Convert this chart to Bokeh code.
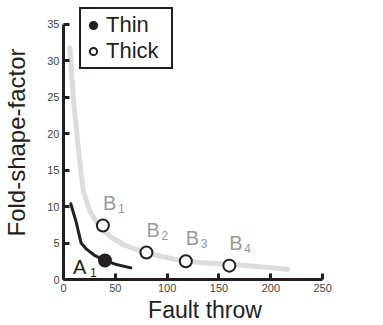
from bokeh.plotting import figure
from bokeh.models import Range1d, Legend, LegendItem, ColumnDataSource, FixedTicker
from bokeh.core.properties import value
from bokeh.embed import file_html
from bokeh.resources import INLINE

# data
thin_curve_x = [7, 12, 17, 22, 30, 40, 50, 65]
thin_curve_y = [10.4, 8.0, 5.0, 4.2, 3.3, 2.6, 2.1, 1.6]
thick_curve_x = [6, 10, 15, 19, 25, 33, 45, 59, 75, 88, 110, 133, 160, 178, 200, 216]
thick_curve_y = [31.8, 24.0, 17.0, 12.2, 9.5, 7.6, 5.9, 4.7, 3.9, 3.4, 2.7, 2.3, 2.1, 1.9, 1.6, 1.4]
thin_pts_x = [40]
thin_pts_y = [2.6]
thick_pts_x = [38, 80, 118, 160]
thick_pts_y = [7.4, 3.7, 2.5, 1.9]
thin_labels = ["A"]
thin_subs = ["1"]
thick_labels = ["B", "B", "B", "B"]
thick_subs = ["1", "2", "3", "4"]
x_ticks = [0, 50, 100, 150, 200, 250]
y_ticks = [0, 5, 10, 15, 20, 25, 30, 35]

FONT = "Liberation Sans"

p = figure(width=383, height=325, output_backend="svg", toolbar_location=None,
           x_range=Range1d(0, 273), y_range=Range1d(0, 37.6),
           min_border_left=62, min_border_right=37, min_border_top=5, min_border_bottom=42)
p.outline_line_color = None
p.grid.grid_line_color = None
p.background_fill_color = "white"

p.line(thick_curve_x, thick_curve_y, line_color="#dcdcdc", line_width=5, line_cap="round")
p.line(thin_curve_x, thin_curve_y, line_color="#231f20", line_width=3, line_cap="round", line_join="round")

r_thin = p.scatter(thin_pts_x, thin_pts_y, size=12, fill_color="#231f20", line_color="#231f20", line_width=2)
r_thick = p.scatter(thick_pts_x, thick_pts_y, size=12, fill_color="white", line_color="#231f20", line_width=2)

bs = ColumnDataSource(dict(x=thick_pts_x, y=thick_pts_y, t=thick_labels, s=thick_subs))
p.text(x="x", y="y", text="t", source=bs, x_offset=0, y_offset=-12, text_font=value(FONT),
       text_font_size="20px", text_color="#999999", text_baseline="bottom", text_align="left")
p.text(x="x", y="y", text="s", source=bs, x_offset=15, y_offset=-13, text_font=value(FONT),
       text_font_size="12px", text_color="#999999", text_baseline="bottom", text_align="left")
as_ = ColumnDataSource(dict(x=thin_pts_x, y=thin_pts_y, t=thin_labels, s=thin_subs))
p.text(x="x", y="y", text="t", source=as_, x_offset=-32, y_offset=17, text_font=value(FONT),
       text_font_size="20px", text_color="#231f20", text_baseline="bottom", text_align="left")
p.text(x="x", y="y", text="s", source=as_, x_offset=-15, y_offset=16, text_font=value(FONT),
       text_font_size="12px", text_color="#231f20", text_baseline="bottom", text_align="left")

for ax, ticks, bnds in ((p.xaxis, x_ticks, (0, 250)), (p.yaxis, y_ticks, (0, 35))):
    ax.ticker = FixedTicker(ticks=ticks)
    ax.bounds = bnds
    ax.axis_line_width = 3
    ax.axis_line_color = "#231f20"
    ax.major_tick_line_width = 3
    ax.major_tick_line_color = "#231f20"
    ax.major_tick_in = 6
    ax.major_tick_out = 0
    ax.minor_tick_line_color = None
    ax.major_label_text_font = FONT
    ax.major_label_text_font_size = "11px"
    ax.major_label_text_color = "#444444"
    ax.axis_label_text_font = FONT
    ax.axis_label_text_font_style = "normal"
    ax.axis_label_text_color = "#231f20"

p.xaxis.axis_label_text_font_size = "23px"
p.yaxis.axis_label_text_font_size = "24px"
p.xaxis.axis_label = "Fault throw"
p.yaxis.axis_label = "Fold-shape-factor"
p.xaxis.major_label_standoff = 4
p.yaxis.major_label_standoff = 4
p.xaxis.axis_label_standoff = 2
p.yaxis.axis_label_standoff = 14

legend = Legend(items=[LegendItem(label="Thin", renderers=[r_thin]),
                       LegendItem(label="Thick", renderers=[r_thick])],
                location=(16, 210))
legend.label_text_font = FONT
legend.label_text_font_size = "22px"
legend.label_text_color = "#231f20"
legend.border_line_color = "#231f20"
legend.border_line_alpha = 1.0
legend.border_line_width = 2
legend.padding = 3
legend.spacing = 0
legend.glyph_width = 18
legend.label_standoff = 4
legend.label_width = 62
legend.margin = 0
legend.label_height = 24
legend.glyph_height = 24
p.add_layout(legend)

open("out.html", "w").write(file_html(p, INLINE))
